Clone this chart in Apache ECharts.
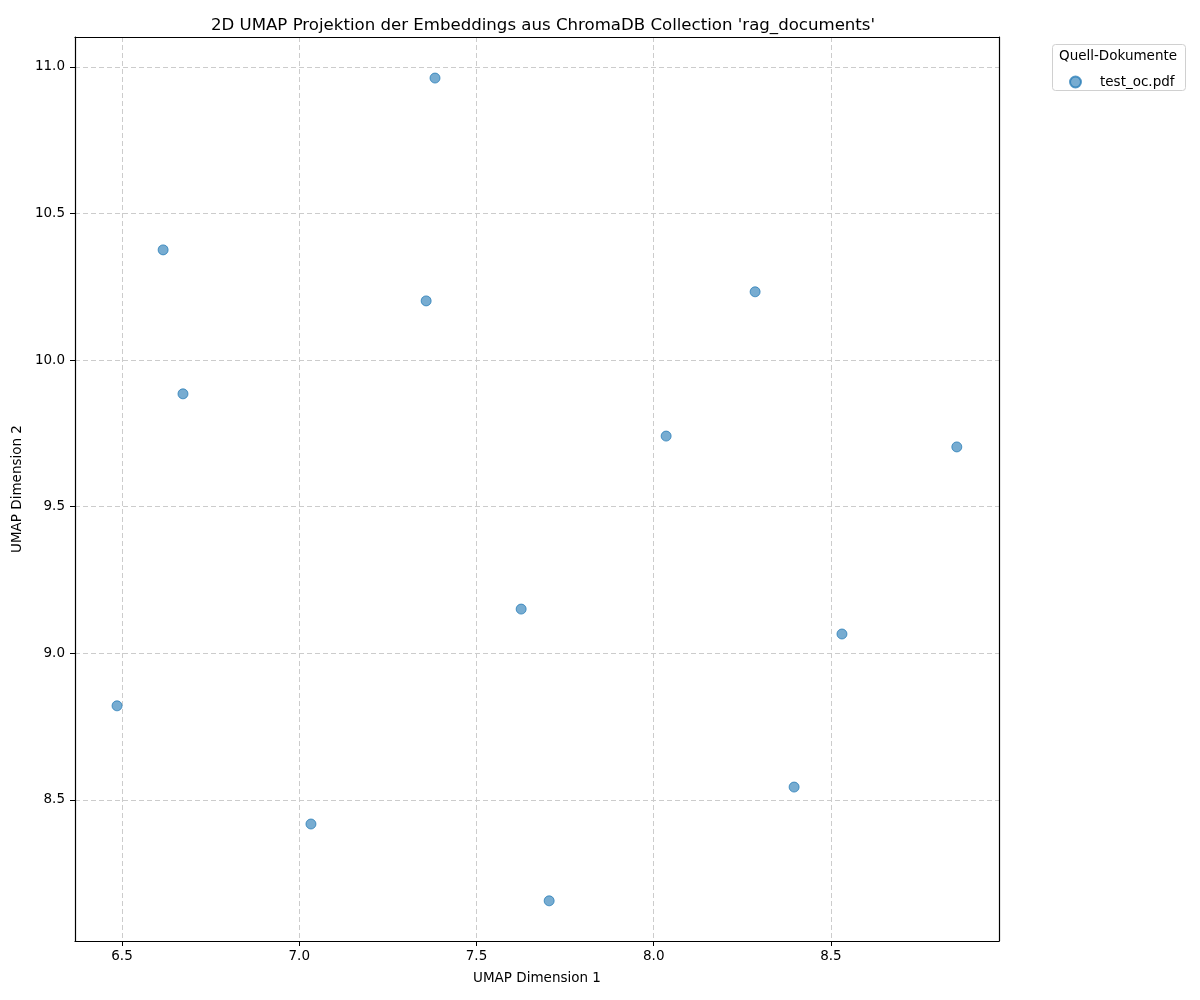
<!DOCTYPE html>
<html>
<head>
<meta charset="utf-8">
<script src="https://cdn.jsdelivr.net/npm/echarts@6/dist/echarts.min.js"></script>
<style>html,body{margin:0;padding:0;background:#fff}#c{width:1200px;height:1000px}</style>
</head>
<body>
<div id="c"></div>
<script>
const seriesName = 'test_oc.pdf';
const umapX = [7.383, 6.616, 7.358, 8.286, 6.672, 8.035, 8.855, 7.626, 8.531, 6.486, 8.396, 7.033, 7.705];
const umapY = [10.962, 10.376, 10.202, 10.233, 9.885, 9.741, 9.704, 9.151, 9.066, 8.821, 8.544, 8.418, 8.156];
const xRange = [6.3674, 8.974];
const yRange = [8.019, 11.102];

const font = 'DejaVu Sans';
const chart = echarts.init(document.getElementById('c'), null, {renderer: 'canvas'});
const data = umapX.map((x, i) => [x, umapY[i]]);

const frameAxis = (range, pos) => ({
  type: 'value', min: range[0], max: range[1], position: pos,
  axisLine: {show: true, onZero: false, lineStyle: {color: '#000', width: 1.2}},
  axisTick: {show: false}, axisLabel: {show: false}, splitLine: {show: false}
});

chart.setOption({
  backgroundColor: '#fff',
  animation: false,
  title: {
    text: "2D UMAP Projektion der Embeddings aus ChromaDB Collection 'rag_documents'",
    left: 538, top: 12, textAlign: 'center',
    textStyle: {fontFamily: font, fontSize: 16.6, fontWeight: 'normal', color: '#000'}
  },
  grid: {left: 75, top: 37, right: 201, bottom: 59, show: false},
  xAxis: [{
    type: 'value', min: xRange[0], max: xRange[1], splitNumber: 5, minInterval: 0.5, maxInterval: 0.5,
    position: 'bottom',
    name: 'UMAP Dimension 1', nameLocation: 'middle', nameGap: 30,
    nameTextStyle: {fontFamily: font, fontSize: 13.5, color: '#000'},
    axisLine: {show: true, onZero: false, lineStyle: {color: '#000', width: 1.2}},
    axisTick: {show: true, length: 5, lineStyle: {color: '#000'}},
    axisLabel: {fontFamily: font, fontSize: 13.5, color: '#000', margin: 8, showMinLabel: false, showMaxLabel: false,
      formatter: v => v.toFixed(1)},
    splitLine: {show: true, lineStyle: {color: '#cccccc', type: [5, 3], width: 1}}
  }, frameAxis(xRange, 'top')],
  yAxis: [{
    type: 'value', min: yRange[0], max: yRange[1], splitNumber: 6, minInterval: 0.5, maxInterval: 0.5,
    position: 'left',
    name: 'UMAP Dimension 2', nameLocation: 'middle', nameGap: 48, nameRotate: 90,
    nameTextStyle: {fontFamily: font, fontSize: 13.5, color: '#000'},
    axisLine: {show: true, onZero: false, lineStyle: {color: '#000', width: 1.2}},
    axisTick: {show: true, length: 5, lineStyle: {color: '#000'}},
    axisLabel: {fontFamily: font, fontSize: 13.5, color: '#000', margin: 10, showMinLabel: false, showMaxLabel: false,
      formatter: v => v.toFixed(1)},
    splitLine: {show: true, lineStyle: {color: '#cccccc', type: [5, 3], width: 1}}
  }, frameAxis(yRange, 'right')],
  legend: {
    data: [seriesName], left: 1064, top: 70, orient: 'vertical',
    icon: 'circle', itemWidth: 11, itemHeight: 11,
    textStyle: {fontFamily: font, fontSize: 13.5, color: '#000', padding: [0, 0, 0, 14]}
  },
  graphic: [
    {type: 'rect', left: 1052, top: 44, shape: {width: 133, height: 46, r: 3}, style: {fill: 'rgba(255,255,255,0.8)', stroke: '#d0d0d0', lineWidth: 1}, z: 0},
    {type: 'text', left: 1059, top: 49, style: {text: 'Quell-Dokumente', fontFamily: font, fontSize: 13.5, fill: '#000'}, z: 1}
  ],
  series: [{
    name: seriesName, type: 'scatter', data: data, symbol: 'circle', symbolSize: 10,
    itemStyle: {color: 'rgba(31,119,180,0.76)', borderColor: 'rgba(31,119,180,0.9)', borderWidth: 1}
  }]
});
</script>
</body>
</html>
